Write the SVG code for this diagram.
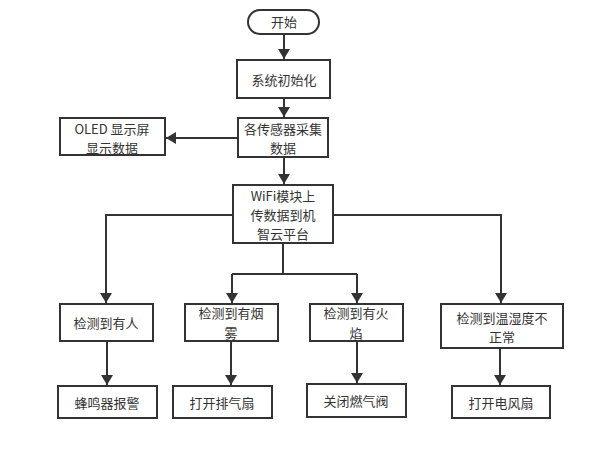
<svg xmlns="http://www.w3.org/2000/svg" width="600" height="457" viewBox="0 0 600 457">
  <style>
    .box { fill: #ffffff; stroke: #333333; stroke-width: 2; }
    .lbl { font-family: "Noto Sans CJK SC", "Liberation Sans", sans-serif; font-size: 13px; fill: #333333; text-anchor: middle; }
    .edge { fill: none; stroke: #333333; stroke-width: 2; }
  </style>
  <defs>
    <marker id="arrow" viewBox="0 0 10 12" refX="10" refY="6" markerWidth="10" markerHeight="12" markerUnits="userSpaceOnUse" orient="auto">
      <path d="M0,0 L10,6 L0,12 Z" fill="#333333"/>
    </marker>
  </defs>
  <rect width="600" height="457" fill="#ffffff"/>

  <g id="connectors">
    <path class="edge" d="M284,34 V59" marker-end="url(#arrow)"/>
    <path class="edge" d="M284,98 V117" marker-end="url(#arrow)"/>
    <path class="edge" d="M238,138 H166" marker-end="url(#arrow)"/>
    <path class="edge" d="M284,157 V184" marker-end="url(#arrow)"/>
    <path class="edge" d="M233,215 H106 V303" marker-end="url(#arrow)"/>
    <path class="edge" d="M333,215 H501 V303" marker-end="url(#arrow)"/>
    <path class="edge" d="M283,243 V274"/>
    <path class="edge" d="M232,274 H357"/>
    <path class="edge" d="M232,274 V303" marker-end="url(#arrow)"/>
    <path class="edge" d="M357,274 V303" marker-end="url(#arrow)"/>
    <path class="edge" d="M107,341 V385" marker-end="url(#arrow)"/>
    <path class="edge" d="M231,341 V385" marker-end="url(#arrow)"/>
    <path class="edge" d="M357,341 V383" marker-end="url(#arrow)"/>
    <path class="edge" d="M500,348 V385" marker-end="url(#arrow)"/>
  </g>

  <g id="start">
    <rect class="box" x="248" y="10" width="71" height="24" rx="12"/>
    <text class="lbl" x="284" y="27">开始</text>
  </g>
  <g id="init">
    <rect class="box" x="237" y="60" width="93" height="38"/>
    <text class="lbl" x="284" y="84.5">系统初始化</text>
  </g>
  <g id="collect">
    <rect class="box" x="238" y="118" width="90" height="39"/>
    <text class="lbl" x="283" y="133.5">各传感器采集</text>
    <text class="lbl" x="283" y="152.5">数据</text>
  </g>
  <g id="oled">
    <rect class="box" x="60" y="118" width="105" height="37"/>
    <text class="lbl" x="112" y="134">OLED 显示屏</text>
    <text class="lbl" x="112" y="153">显示数据</text>
  </g>
  <g id="wifi">
    <rect class="box" x="233" y="185" width="100" height="58"/>
    <text class="lbl" x="283" y="201">WiFi模块上</text>
    <text class="lbl" x="283" y="220">传数据到机</text>
    <text class="lbl" x="283" y="239">智云平台</text>
  </g>
  <g id="detect-person">
    <rect class="box" x="60" y="304" width="93" height="37"/>
    <text class="lbl" x="106" y="327.5">检测到有人</text>
  </g>
  <g id="detect-smoke">
    <rect class="box" x="185" y="304" width="93" height="37"/>
    <text class="lbl" x="231" y="318">检测到有烟</text>
    <text class="lbl" x="231" y="338">雾</text>
  </g>
  <g id="detect-fire">
    <rect class="box" x="310" y="304" width="93" height="37"/>
    <text class="lbl" x="356" y="318">检测到有火</text>
    <text class="lbl" x="356" y="338">焰</text>
  </g>
  <g id="detect-temp">
    <rect class="box" x="441" y="304" width="122" height="44"/>
    <text class="lbl" x="502" y="322.5">检测到温湿度不</text>
    <text class="lbl" x="502" y="341.5">正常</text>
  </g>
  <g id="buzzer">
    <rect class="box" x="58" y="386" width="99" height="32"/>
    <text class="lbl" x="107" y="407.5">蜂鸣器报警</text>
  </g>
  <g id="exhaust-fan">
    <rect class="box" x="173" y="386" width="99" height="32"/>
    <text class="lbl" x="222" y="407.5">打开排气扇</text>
  </g>
  <g id="gas-valve">
    <rect class="box" x="307" y="384" width="99" height="33"/>
    <text class="lbl" x="356" y="405.5">关闭燃气阀</text>
  </g>
  <g id="electric-fan">
    <rect class="box" x="452" y="386" width="98" height="32"/>
    <text class="lbl" x="501" y="407.5">打开电风扇</text>
  </g>
</svg>
